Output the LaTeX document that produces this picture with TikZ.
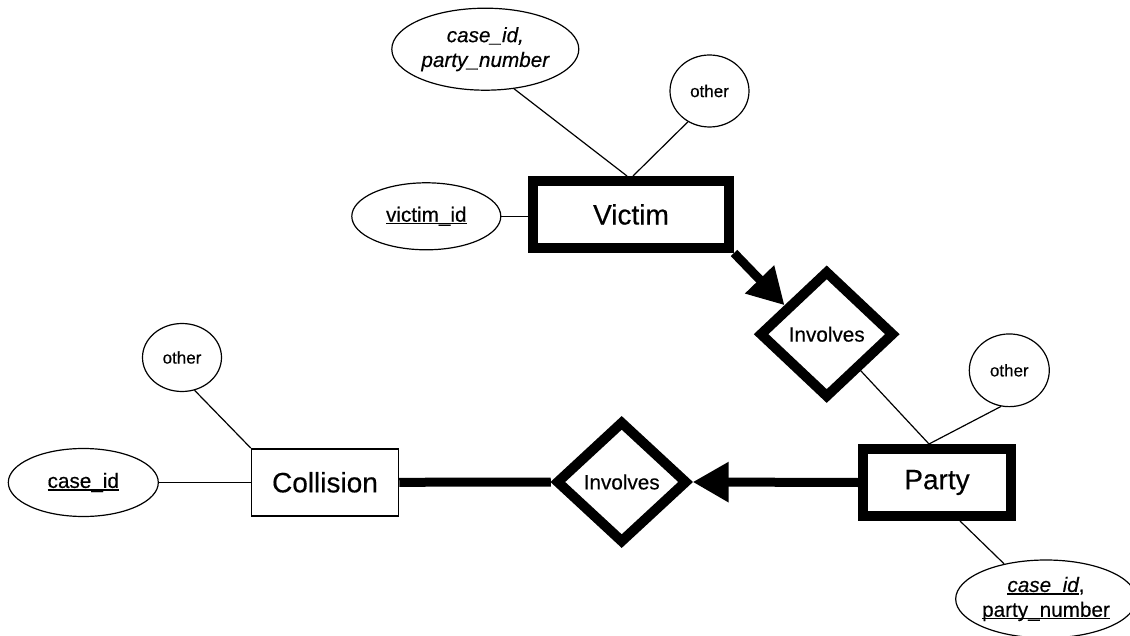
\documentclass[tikz,border=0pt]{standalone}
\usepackage{fontspec}
\setmainfont{Liberation Sans}[UprightFeatures={FakeBold=0.35},ItalicFeatures={FakeBold=0.35}]
\usetikzlibrary{shapes.geometric,arrows.meta,calc}
\newcommand\myul[1]{\setbox0\hbox{#1}\leavevmode\rlap{\rule[-0.13em]{\wd0}{0.065em}}\box0}
\tikzset{
  attr/.style={ellipse, draw, line width=1.2pt, inner sep=0pt, align=center,
    font=\fontsize{20.7}{24.8}\selectfont},
  otherattr/.style={attr, font=\fontsize{17}{20}\selectfont},
  entity/.style={rectangle, draw, line width=10pt, inner sep=0pt,
    font=\fontsize{28}{33.6}\selectfont},
  weakrel/.style={diamond, draw, line width=10pt, line join=miter, inner sep=0pt,
    font=\fontsize{20.7}{24.8}\selectfont},
  thin/.style={line width=1.2pt},
  thick/.style={line width=9pt},
  thickarrow/.style={line width=9pt, -{Triangle[length=36pt,width=38pt]}}
}
\begin{document}
\begin{tikzpicture}[x=1pt,y=-1pt]
\fill[white] (0,0) rectangle (1130,636);
\useasboundingbox (0,0) rectangle (1130,636);

% entities
\node[entity, minimum width=196, minimum height=67] (victim) at (631,214.5) {Victim};
\node[entity, minimum width=148, minimum height=67] (party) at (937,482.5) {Party};
\node[entity, line width=1.5pt, minimum width=147, minimum height=67] (coll) at (325,482.3) {Collision};

% relationships
\node[weakrel, minimum width=135.4, minimum height=127.8] (inv1) at (826.7,334.2) {Involves};
\node[weakrel, minimum width=131.9, minimum height=122.4] (inv2) at (621.7,482) {Involves};

% attributes
\node[attr, minimum width=187, minimum height=82] (vcid) at (485.3,49.2) {\itshape case\_id,\\\itshape party\_number};
\node[otherattr, minimum width=79, minimum height=72] (vother) at (709.5,91) {other};
\node[attr, minimum width=149, minimum height=67] (vid) at (426.3,216.3) {\myul{victim\_id}};
\node[otherattr, minimum width=79, minimum height=68] (cother) at (182,357.5) {other};
\node[attr, minimum width=150, minimum height=68] (ccid) at (83.3,482.5) {\myul{case\_id}};
\node[otherattr, minimum width=80, minimum height=72.7] (pother) at (1009.3,370.3) {other};
\node[attr, minimum width=172, minimum height=78] (pcid) at (1046,599) {\myul{\itshape case\_id},\\\myul{party\_number}};

\coordinate (ptop) at ([xshift=-8pt]party.north);
\coordinate (vtip) at ($(inv1.west)!0.42!(inv1.north)$);

% attribute connectors
\draw[thin] (vcid.306) -- ([xshift=-4pt]victim.north);
\draw[thin] (vother.235) -- ([xshift=2pt]victim.north);
\draw[thin] (vid.east) -- (vid.east -| victim.west);
\draw[thin] (cother.291) -- (coll.north west);
\draw[thin] (ccid.east) -- (ccid.east -| coll.west);
\draw[thin] (pother.257) -- (ptop);
\draw[thin] (inv1) -- (ptop);
\draw[thin] ([xshift=23pt]party.south) -- (pcid.140);

% relationship connectors
\draw[thickarrow] (victim.south east) -- (vtip);
\draw[thickarrow] (party.west) -- (inv2.east);
\draw[thick] (coll.east) -- (inv2.west);
\end{tikzpicture}
\end{document}
